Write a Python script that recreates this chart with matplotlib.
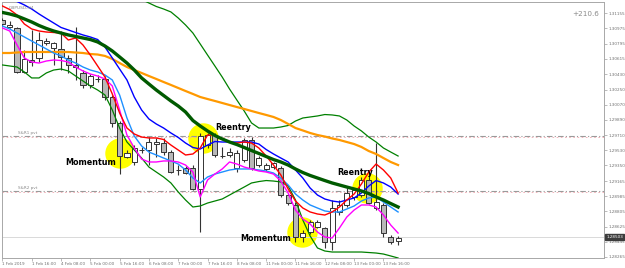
import matplotlib
matplotlib.use("Agg")
import matplotlib.pyplot as plt
import matplotlib.transforms as mtransforms
import numpy as np

# ---------------- data (GBPUSD H4) ----------------
opens = [1.31076,1.30993,1.30981,1.30459,1.30601,1.30625,1.30803,1.30743,1.30732,1.30625,
         1.30542,1.30447,1.30305,1.30376,1.30376,1.30162,1.29854,1.29450,1.29391,1.29533,
         1.29533,1.29604,1.29616,1.29509,1.29296,1.29320,1.29320,1.29071,1.29592,1.29711,
         1.29462,1.29474,1.29320,1.29414,1.29652,1.29355,1.29308,1.29331,1.29320,1.28999,
         1.28881,1.28501,1.28560,1.28620,1.28608,1.28442,1.28798,1.28881,1.28976,1.28999,
         1.29177,1.28845,1.28881,1.28501,1.28454]
highs = [1.31099,1.31064,1.30993,1.30720,1.30957,1.30933,1.30862,1.30815,1.30945,1.30660,
         1.30993,1.30482,1.30435,1.30423,1.30411,1.30186,1.29877,1.29533,1.29592,1.29569,
         1.29687,1.29676,1.29676,1.29533,1.29355,1.29343,1.29355,1.29735,1.29735,1.29735,
         1.29569,1.29557,1.29533,1.29676,1.29687,1.29462,1.29379,1.29391,1.29343,1.29023,
         1.28916,1.28584,1.28703,1.28703,1.28620,1.28940,1.28940,1.29082,1.29082,1.29213,
         1.29296,1.29616,1.28904,1.28525,1.28513]
lows = [1.31004,1.30981,1.30447,1.30447,1.30530,1.30577,1.30779,1.30542,1.30482,1.30447,
        1.30364,1.30269,1.30269,1.30340,1.30127,1.29806,1.29248,1.29438,1.29355,1.29498,
        1.29355,1.29450,1.29474,1.29260,1.29237,1.29248,1.29059,1.28560,1.29557,1.29450,
        1.29438,1.29450,1.29272,1.29391,1.29296,1.29331,1.29284,1.29308,1.28976,1.28881,
        1.28442,1.28442,1.28537,1.28608,1.28371,1.28347,1.28762,1.28857,1.28940,1.28976,
        1.28893,1.28821,1.28501,1.28418,1.28406]
closes = [1.31028,1.31016,1.30459,1.30613,1.30577,1.30838,1.30826,1.30803,1.30637,1.30542,
          1.30518,1.30305,1.30411,1.30378,1.30162,1.29854,1.29462,1.29498,1.29557,1.29535,
          1.29628,1.29628,1.29509,1.29272,1.29298,1.29260,1.29071,1.29699,1.29711,1.29474,
          1.29464,1.29509,1.29498,1.29652,1.29320,1.29438,1.29355,1.29379,1.28999,1.28904,
          1.28501,1.28548,1.28679,1.28679,1.28442,1.28845,1.28881,1.29023,1.29059,1.29177,
          1.28904,1.28916,1.28548,1.28442,1.28489]

ema_dark_green = [1.31165,1.31147,1.31123,1.31088,1.31052,1.31010,1.30975,1.30945,1.30921,1.30898,
                  1.30880,1.30862,1.30844,1.30815,1.30767,1.30708,1.30637,1.30565,1.30482,1.30388,
                  1.30316,1.30245,1.30180,1.30115,1.30055,1.29984,1.29883,1.29818,1.29759,1.29705,
                  1.29664,1.29628,1.29598,1.29563,1.29527,1.29492,1.29456,1.29420,1.29391,1.29355,
                  1.29308,1.29266,1.29231,1.29201,1.29171,1.29142,1.29118,1.29094,1.29071,1.29047,
                  1.29017,1.28976,1.28940,1.28898,1.28857]
ema_blue = [1.31384,1.31325,1.31295,1.31254,1.31206,1.31147,1.31093,1.31040,1.30987,1.30957,
            1.30927,1.30898,1.30874,1.30844,1.30755,1.30625,1.30494,1.30364,1.30162,1.30008,
            1.29901,1.29842,1.29794,1.29735,1.29682,1.29616,1.29563,1.29545,1.29592,1.29634,
            1.29628,1.29628,1.29628,1.29628,1.29628,1.29604,1.29539,1.29486,1.29438,1.29391,
            1.29296,1.29201,1.29082,1.28999,1.28952,1.28928,1.28916,1.28940,1.28964,1.29023,
            1.29106,1.29171,1.29142,1.29094,1.29011]
ema_red = [1.31242,1.31200,1.31135,1.31028,1.30969,1.30945,1.30933,1.30927,1.30921,1.30838,
           1.30862,1.30779,1.30660,1.30530,1.30399,1.30198,1.29972,1.29794,1.29723,1.29687,
           1.29676,1.29676,1.29658,1.29592,1.29533,1.29474,1.29486,1.29557,1.29711,1.29711,
           1.29664,1.29628,1.29616,1.29628,1.29616,1.29557,1.29462,1.29355,1.29237,1.29071,
           1.28928,1.28845,1.28798,1.28774,1.28762,1.28798,1.28857,1.28940,1.29011,1.29130,
           1.29272,1.29367,1.29296,1.29201,1.29023]
ema_magenta = [1.30981,1.30945,1.30779,1.30625,1.30577,1.30565,1.30589,1.30601,1.30595,1.30577,
               1.30518,1.30471,1.30435,1.30411,1.30376,1.30293,1.30008,1.29711,1.29557,1.29426,
               1.29391,1.29391,1.29403,1.29403,1.29391,1.29355,1.29272,1.28976,1.29177,1.29248,
               1.29308,1.29391,1.29367,1.29331,1.29308,1.29284,1.29272,1.29248,1.29165,1.29023,
               1.28821,1.28715,1.28655,1.28560,1.28501,1.28489,1.28608,1.28738,1.28821,1.28881,
               1.28881,1.28857,1.28762,1.28643,1.28548]
ema_lightblue = [1.31004,1.30969,1.30921,1.30874,1.30826,1.30779,1.30732,1.30684,1.30649,1.30601,
                 1.30565,1.30518,1.30482,1.30459,1.30423,1.30364,1.30186,1.29913,1.29699,1.29581,
                 1.29509,1.29474,1.29438,1.29403,1.29367,1.29296,1.29201,1.29142,1.29213,1.29248,
                 1.29272,1.29296,1.29308,1.29308,1.29308,1.29296,1.29284,1.29260,1.29201,1.29118,
                 1.29011,1.28940,1.28881,1.28845,1.28810,1.28798,1.28798,1.28833,1.28869,1.28928,
                 1.28964,1.28976,1.28916,1.28857,1.28798]
band_upper = [1.31610,1.31610,1.31598,1.31586,1.31574,1.31562,1.31550,1.31550,1.31538,1.31527,
              1.31515,1.31503,1.31491,1.31479,1.31455,1.31432,1.31408,1.31384,1.31349,1.31319,
              1.31277,1.31236,1.31206,1.31171,1.31099,1.31016,1.30921,1.30791,1.30660,1.30530,
              1.30399,1.30257,1.30126,1.29996,1.29854,1.29794,1.29794,1.29794,1.29806,1.29824,
              1.29877,1.29913,1.29925,1.29937,1.29954,1.29949,1.29937,1.29889,1.29818,1.29759,
              1.29687,1.29628,1.29557,1.29509,1.29462]
band_lower = [1.30542,1.30530,1.30518,1.30459,1.30388,1.30388,1.30447,1.30482,1.30494,1.30471,
              1.30411,1.30352,1.30293,1.30245,1.30186,1.30008,1.29794,1.29628,1.29533,1.29438,
              1.29331,1.29272,1.29213,1.29142,1.29035,1.28940,1.28857,1.28869,1.28904,1.28928,
              1.28952,1.28999,1.29047,1.29094,1.29142,1.29159,1.29171,1.29165,1.29154,1.29106,
              1.28940,1.28703,1.28513,1.28371,1.28335,1.28323,1.28323,1.28323,1.28323,1.28323,
              1.28317,1.28311,1.28299,1.28276,1.28252]
sma_orange = [1.30684,1.30684,1.30690,1.30696,1.30696,1.30696,1.30696,1.30696,1.30696,1.30696,
              1.30690,1.30684,1.30672,1.30666,1.30649,1.30613,1.30565,1.30518,1.30482,1.30447,
              1.30411,1.30376,1.30340,1.30305,1.30269,1.30233,1.30198,1.30162,1.30138,1.30115,
              1.30091,1.30067,1.30043,1.30020,1.29996,1.29972,1.29949,1.29925,1.29889,1.29842,
              1.29794,1.29765,1.29735,1.29711,1.29693,1.29670,1.29652,1.29628,1.29604,1.29569,
              1.29521,1.29486,1.29438,1.29391,1.29355]

pivot_levels = [1.29699, 1.29041]
pivot_labels = ["S&R1 pvt", "S&R2 pvt"]
bid_price = 1.28501
bid_label = "1.28503"
profit_text = "+210.6"
symbol_text = "GBPUSD,H4"

price_ticks = [1.31155,1.30975,1.30795,1.30615,1.30430,1.30250,1.30070,1.29890,1.29710,
               1.29530,1.29350,1.29165,1.28985,1.28805,1.28625,1.28445,1.28265]
time_labels = ["1 Feb 2019","1 Feb 16:00","4 Feb 08:00","5 Feb 00:00","5 Feb 16:00",
               "6 Feb 08:00","7 Feb 00:00","7 Feb 16:00","8 Feb 08:00","11 Feb 00:00",
               "11 Feb 16:00","12 Feb 08:00","13 Feb 00:00","13 Feb 16:00"]
time_label_bars = [0,4,8,12,16,20,24,28,32,36,40,44,48,52]

# annotations: (bar, price)
circles = [(16.1, 1.29498), (27.4, 1.29680), (49.7, 1.29080), (40.9, 1.28562)]
notes = [("Momentum", 12.0, 1.29380), ("Reentry", 31.5, 1.29800),
         ("Reentry", 48.1, 1.29272), ("Momentum", 35.9, 1.28480)]

# ---------------- drawing ----------------
W, H = 625, 268
fig = plt.figure(figsize=(W/100, H/100), dpi=100)
fig.patch.set_facecolor("white")
L, R, T, B = 2, 604, 2, 258
ax = fig.add_axes([L/W, 1-B/H, (R-L)/W, (B-T)/H])
ax.set_facecolor("white")

n = len(opens)
x = np.arange(n)
ax.set_xlim(-0.05, 82.1)
ax.set_ylim(1.28252, 1.31289)

# yellow circles (drawn lowest)
for cx, cy in circles:
    ax.scatter([cx], [cy], s=480, color="#ffff00", zorder=1, linewidths=0)

# pivot lines
for lv in pivot_levels:
    ax.axhline(lv, color="#9a9a9a", lw=0.8, ls=(0, (5, 2, 1, 2)), zorder=2)
    ax.axhline(lv - 0.00010, color="#f0a8b0", lw=0.6, ls=(0, (2, 3)), zorder=2)
for lv, lb in zip(pivot_levels, pivot_labels):
    ax.text(2.1, lv + 0.00012, lb, fontsize=3.0, color="#8a8a8a",
            ha="left", va="bottom", zorder=3)

# bid line
ax.axhline(bid_price, color="#d9d9d9", lw=0.7, zorder=2)

# candles
o = np.array(opens); c = np.array(closes); h = np.array(highs); l = np.array(lows)
ax.vlines(x, l, h, color="#333333", lw=0.8, zorder=3)
bull = c >= o
body_b = np.minimum(o, c)
body_h = np.maximum(np.abs(c - o), 0.000012)
ax.bar(x[bull], body_h[bull], bottom=body_b[bull], width=0.7, color="white",
       edgecolor="#333333", linewidth=0.7, zorder=4)
ax.bar(x[~bull], body_h[~bull], bottom=body_b[~bull], width=0.7, color="#b8b8b8",
       edgecolor="#333333", linewidth=0.7, zorder=4)

# indicator lines
ax.plot(x, band_upper, color="#008000", lw=0.9, zorder=5)
ax.plot(x, band_lower, color="#008000", lw=0.9, zorder=5)
ax.plot(x, sma_orange, color="#ff9900", lw=1.6, zorder=5)
ax.plot(x, ema_lightblue, color="#1e90ff", lw=1.0, zorder=6)
ax.plot(x, ema_magenta, color="#ff00ff", lw=1.0, zorder=6)
ax.plot(x, ema_blue, color="#0000ff", lw=1.0, zorder=6)
ax.plot(x, ema_red, color="#ff0000", lw=1.0, zorder=6)
ax.plot(x, ema_dark_green, color="#005a00", lw=2.4, zorder=7)

# notes
for txt, bx, py in notes:
    ax.text(bx, py, txt, fontsize=5.8, fontweight="bold", color="black",
            ha="center", va="center", zorder=8)

# corner texts
ax.text(0.012, 0.985, symbol_text, transform=ax.transAxes, fontsize=3.2,
        color="#8a8a8a", ha="left", va="top", zorder=9)
ax.text(0.992, 0.965, profit_text, transform=ax.transAxes, fontsize=5.2,
        color="#8a8a8a", ha="right", va="top", zorder=9)

# axes styling
for s in ax.spines.values():
    s.set_color("#a8a8a8")
    s.set_linewidth(0.7)
ax.yaxis.tick_right()
ax.set_yticks(price_ticks)
ax.set_yticklabels([f"{v:.5f}" for v in price_ticks])
ax.tick_params(axis="y", length=2, width=0.5, colors="#a0a0a0", labelsize=3.0,
               labelcolor="#707070", pad=1.5)
ax.set_xticks(time_label_bars)
ax.set_xticklabels(time_labels, ha="left")
ax.tick_params(axis="x", length=2, width=0.5, colors="#a0a0a0", labelsize=3.0,
               labelcolor="#707070", pad=1.0)

trans = mtransforms.blended_transform_factory(ax.transAxes, ax.transData)
ax.text(1.004, bid_price, bid_label, transform=trans, fontsize=3.0, color="white",
        ha="left", va="center", zorder=10,
        bbox=dict(boxstyle="square,pad=0.25", facecolor="#3c3c3c", edgecolor="#3c3c3c"))

fig.savefig("out.png", dpi=100, facecolor="white")
